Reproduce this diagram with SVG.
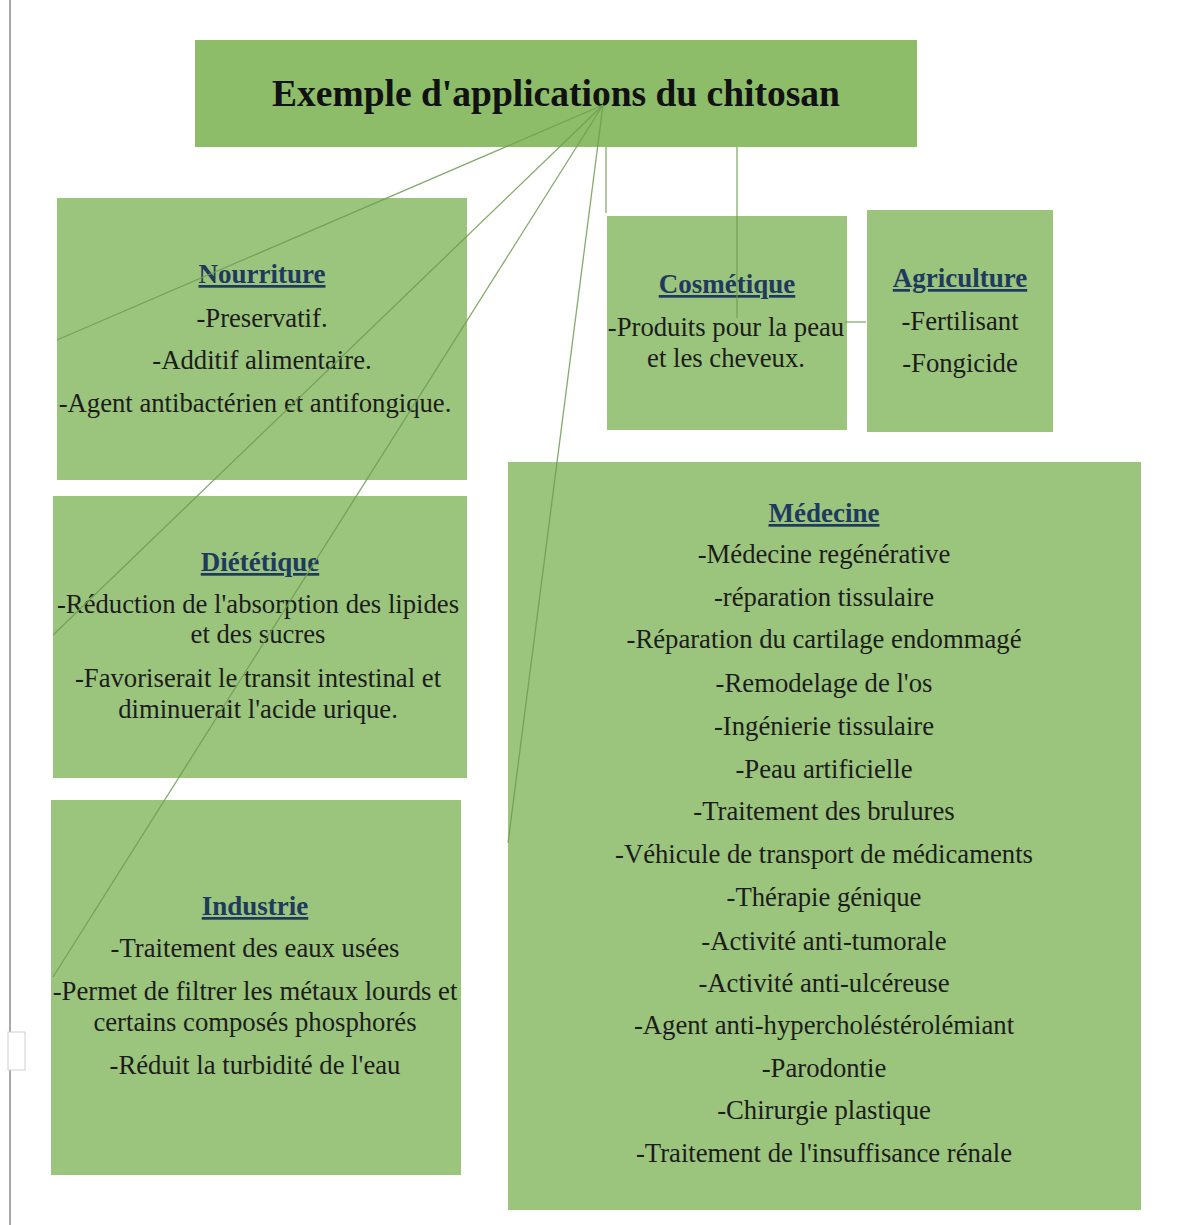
<svg xmlns="http://www.w3.org/2000/svg" width="1184" height="1225" viewBox="0 0 1184 1225">
<style>
.box{fill:#9bc47c}
.title{fill:#8dbd68}
.t{font-family:"Liberation Serif","Times New Roman",serif;font-size:26.7px;fill:#1c1c1c;text-anchor:middle}
.h{font-family:"Liberation Serif","Times New Roman",serif;font-size:27px;font-weight:bold;fill:#1f3a5f;text-anchor:middle;text-decoration:underline}
.tt{font-family:"Liberation Serif","Times New Roman",serif;font-size:37.5px;font-weight:bold;fill:#111;text-anchor:middle}
.c{stroke:#6e9c52;stroke-width:1.3;fill:none;opacity:0.85}
.ci{stroke:#7fa865;stroke-width:1.2;fill:none;opacity:0.6}
</style>
<rect x="0" y="0" width="1184" height="1225" fill="#ffffff"/>
<line x1="10" y1="0" x2="10" y2="1225" stroke="#a8a8a8" stroke-width="2"/>
<rect x="8" y="1032" width="17" height="38" fill="#fff" stroke="#d0d0d0" stroke-width="1"/>

<g id="title">
<rect class="title" x="195" y="40" width="722" height="107"/>
<text class="tt" x="556" y="106">Exemple d'applications du chitosan</text>
</g>

<g id="nourriture">
<rect class="box" x="57" y="198" width="410" height="282"/>
<text class="h" x="262" y="283">Nourriture</text>
<text class="t" x="262" y="327">-Preservatif.</text>
<text class="t" x="262" y="369">-Additif alimentaire.</text>
<text class="t" x="255" y="412">-Agent antibactérien et antifongique.</text>
</g>

<g id="dietetique">
<rect class="box" x="53" y="496" width="414" height="282"/>
<text class="h" x="260" y="571">Diététique</text>
<text class="t" x="258" y="613">-Réduction de l'absorption des lipides</text>
<text class="t" x="258" y="643">et des sucres</text>
<text class="t" x="258" y="687">-Favoriserait le transit intestinal et</text>
<text class="t" x="258" y="718">diminuerait l'acide urique.</text>
</g>

<g id="industrie">
<rect class="box" x="51" y="800" width="410" height="375"/>
<text class="h" x="255" y="915">Industrie</text>
<text class="t" x="255" y="957">-Traitement des eaux usées</text>
<text class="t" x="255" y="1000">-Permet de filtrer les métaux lourds et</text>
<text class="t" x="255" y="1031">certains composés phosphorés</text>
<text class="t" x="255" y="1074">-Réduit la turbidité de l'eau</text>
</g>

<g id="cosmetique">
<rect class="box" x="607" y="216" width="240" height="214"/>
<text class="h" x="727" y="293">Cosmétique</text>
<text class="t" x="726" y="336">-Produits pour la peau</text>
<text class="t" x="726" y="367">et les cheveux.</text>
</g>

<g id="agriculture">
<rect class="box" x="867" y="210" width="186" height="222"/>
<text class="h" x="960" y="287">Agriculture</text>
<text class="t" x="960" y="330">-Fertilisant</text>
<text class="t" x="960" y="372">-Fongicide</text>
</g>

<g id="medecine">
<rect class="box" x="508" y="462" width="633" height="748"/>
<text class="h" x="824" y="522">Médecine</text>
<text class="t" x="824" y="563">-Médecine regénérative</text>
<text class="t" x="824" y="606">-réparation tissulaire</text>
<text class="t" x="824" y="648">-Réparation du cartilage endommagé</text>
<text class="t" x="824" y="692">-Remodelage de l'os</text>
<text class="t" x="824" y="735">-Ingénierie tissulaire</text>
<text class="t" x="824" y="778">-Peau artificielle</text>
<text class="t" x="824" y="820">-Traitement des brulures</text>
<text class="t" x="824" y="863">-Véhicule de transport de médicaments</text>
<text class="t" x="824" y="906">-Thérapie génique</text>
<text class="t" x="824" y="950">-Activité anti-tumorale</text>
<text class="t" x="824" y="992">-Activité anti-ulcéreuse</text>
<text class="t" x="824" y="1034">-Agent anti-hypercholéstérolémiant</text>
<text class="t" x="824" y="1077">-Parodontie</text>
<text class="t" x="824" y="1119">-Chirurgie plastique</text>
<text class="t" x="824" y="1162">-Traitement de l'insuffisance rénale</text>
</g>

<g id="connectors">
<line class="c" x1="603" y1="105" x2="57" y2="340"/>
<line class="c" x1="603" y1="105" x2="53" y2="635"/>
<line class="c" x1="603" y1="105" x2="53" y2="977"/>
<line class="c" x1="603" y1="105" x2="508" y2="843"/>
<line class="c" x1="606" y1="147" x2="606" y2="213"/>
<line class="c" x1="737" y1="147" x2="737" y2="318"/>
<line class="c" x1="845" y1="322" x2="866" y2="322"/>
</g>
</svg>
